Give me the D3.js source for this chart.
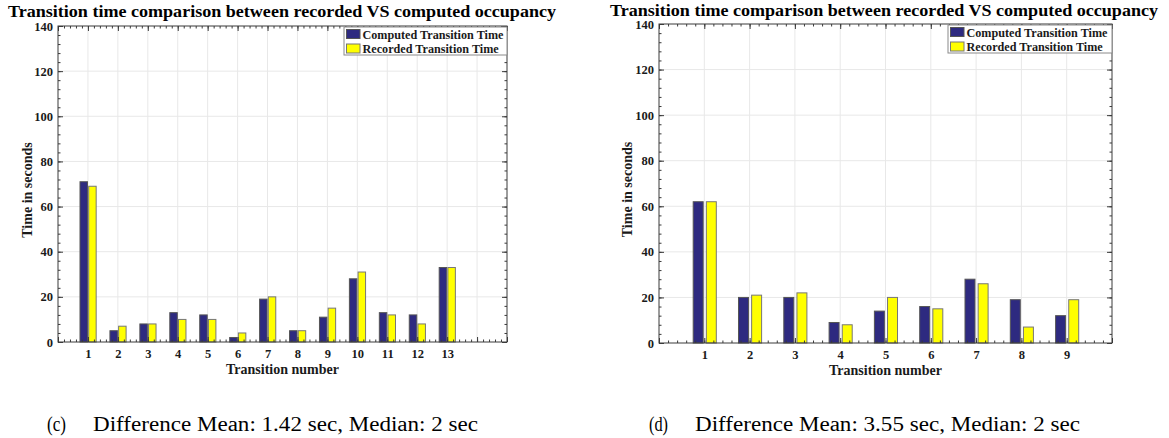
<!DOCTYPE html>
<html><head><meta charset="utf-8">
<script src="https://cdn.jsdelivr.net/npm/d3@7"></script>
<style>body{margin:0;background:#fff}svg{display:block}</style>
</head><body>
<svg id="c" width="1169" height="438"></svg>
<script>
// ---------- data ----------
const titleText = "Transition time comparison between recorded VS computed occupancy";
const seriesNames = ["Computed Transition Time", "Recorded Transition Time"];
const yTickValues = [0, 20, 40, 60, 80, 100, 120, 140];
const yLabel = "Time in seconds";
const xLabel = "Transition number";

const leftCategories = [1, 2, 3, 4, 5, 6, 7, 8, 9, 10, 11, 12, 13];
const leftComputed = [71, 5, 8, 13, 12, 2, 19, 5, 11, 28, 13, 12, 33];
const leftRecorded = [69, 7, 8, 10, 10, 4, 20, 5, 15, 31, 12, 8, 33];

const rightCategories = [1, 2, 3, 4, 5, 6, 7, 8, 9];
const rightComputed = [62, 20, 20, 9, 14, 16, 28, 19, 12];
const rightRecorded = [62, 21, 22, 8, 20, 15, 26, 7, 19];

const captionLetters = ["(c)", "(d)"];
const captionTexts = ["Difference Mean: 1.42 sec, Median: 2 sec", "Difference Mean: 3.55 sec, Median: 2 sec"];

// ---------- style ----------
const serif = "'Liberation Serif','Times New Roman',serif";
const colors = ["#2e2a80", "#ffff00"];
const edgeColors = ["#555", "#777"];
const axisColor = "#3a3a3a";
const textColor = "#1a1a1a";
const svg = d3.select("#c");

function fitText(sel, target) {
  const fs = parseFloat(sel.attr("font-size"));
  const len = sel.node().getComputedTextLength();
  sel.attr("font-size", fs * target / len);
}

function drawChart(cfg) {
  const g = svg.append("g");
  const x = d3.scaleLinear().domain([0, cfg.xMax]).range([cfg.left, cfg.right]);
  const y = d3.scaleLinear().domain([0, 140]).range([cfg.bottom, cfg.top]);

  // grid
  g.append("g").selectAll("line").data(yTickValues.slice(1, -1)).join("line")
    .attr("x1", cfg.left).attr("x2", cfg.right)
    .attr("y1", d => y(d)).attr("y2", d => y(d))
    .attr("stroke", "#e8e8e8").attr("stroke-width", 1);
  g.append("g").selectAll("line").data(d3.range(1, cfg.xMax)).join("line")
    .attr("x1", d => x(d)).attr("x2", d => x(d))
    .attr("y1", cfg.top).attr("y2", cfg.bottom)
    .attr("stroke", "#e8e8e8").attr("stroke-width", 1);

  // bars
  const series = [cfg.computed, cfg.recorded];
  series.forEach((vals, si) => {
    const off = cfg.offsets[si];
    g.append("g").selectAll("rect").data(cfg.categories).join("rect")
      .attr("x", (c) => x(c + off[0]))
      .attr("width", (c) => x(c + off[1]) - x(c + off[0]))
      .attr("y", (c, i) => y(vals[i]))
      .attr("height", (c, i) => y(0) - y(vals[i]))
      .attr("fill", colors[si])
      .attr("stroke", edgeColors[si]).attr("stroke-width", 1);
  });

  // axes
  const majorX = d3.range(0, cfg.xMax + 1);
  const minorX = d3.range(0, cfg.xMax * 5 + 1).map(d => d / 5);
  const minorY = d3.range(0, 36).map(d => d * 4);

  function styleAxis(a) {
    a.select(".domain").remove();
    a.selectAll("line").attr("stroke", axisColor);
    a.selectAll("text").attr("font-family", serif).attr("font-weight", "bold")
      .attr("font-size", 12.5).attr("fill", textColor);
  }
  const bottom = g.append("g").attr("transform", `translate(0,${cfg.bottom})`)
    .call(d3.axisBottom(x).tickValues(majorX)
      .tickFormat(d => cfg.categories.includes(d) ? d : "").tickSize(-5).tickPadding(7));
  styleAxis(bottom);
  const bottomMinor = g.append("g").attr("transform", `translate(0,${cfg.bottom})`)
    .call(d3.axisBottom(x).tickValues(minorX).tickFormat("").tickSize(-2.5));
  styleAxis(bottomMinor);
  const top = g.append("g").attr("transform", `translate(0,${cfg.top})`)
    .call(d3.axisTop(x).tickValues(majorX).tickFormat("").tickSize(-5));
  styleAxis(top);
  const topMinor = g.append("g").attr("transform", `translate(0,${cfg.top})`)
    .call(d3.axisTop(x).tickValues(minorX).tickFormat("").tickSize(-2.5));
  styleAxis(topMinor);

  const leftAx = g.append("g").attr("transform", `translate(${cfg.left},0)`)
    .call(d3.axisLeft(y).tickValues(yTickValues).tickSize(-5).tickPadding(5));
  styleAxis(leftAx);
  const leftMinor = g.append("g").attr("transform", `translate(${cfg.left},0)`)
    .call(d3.axisLeft(y).tickValues(minorY).tickFormat("").tickSize(-2.5));
  styleAxis(leftMinor);
  const rightAx = g.append("g").attr("transform", `translate(${cfg.right},0)`)
    .call(d3.axisRight(y).tickValues(yTickValues).tickFormat("").tickSize(-5));
  styleAxis(rightAx);
  const rightMinor = g.append("g").attr("transform", `translate(${cfg.right},0)`)
    .call(d3.axisRight(y).tickValues(minorY).tickFormat("").tickSize(-2.5));
  styleAxis(rightMinor);

  // box
  g.append("rect").attr("x", cfg.left).attr("y", cfg.top)
    .attr("width", cfg.right - cfg.left).attr("height", cfg.bottom - cfg.top)
    .attr("fill", "none").attr("stroke", axisColor).attr("stroke-width", 1);

  // labels
  g.append("text").attr("x", (cfg.left + cfg.right) / 2).attr("y", cfg.bottom + 32)
    .attr("text-anchor", "middle").attr("font-family", serif).attr("font-weight", "bold")
    .attr("font-size", 14).attr("fill", textColor).text(xLabel);
  g.append("text").attr("transform", `translate(${cfg.yLabelX},${(cfg.top + cfg.bottom) / 2 + 6}) rotate(-90)`)
    .attr("text-anchor", "middle").attr("font-family", serif).attr("font-weight", "bold")
    .attr("font-size", 14).attr("fill", textColor).text(yLabel);

  // title
  g.append("text").attr("x", cfg.titleX).attr("y", cfg.titleY)
    .attr("font-family", serif).attr("font-weight", "bold").attr("font-size", 17)
    .attr("textLength", 548).attr("lengthAdjust", "spacingAndGlyphs")
    .attr("fill", "#000").text(titleText);

  // legend
  const lg = g.append("g");
  lg.append("rect").attr("x", cfg.legendX).attr("y", cfg.legendY)
    .attr("width", cfg.right - cfg.legendX).attr("height", 28)
    .attr("fill", "#fff").attr("stroke", "#8a8a8a").attr("stroke-width", 1);
  seriesNames.forEach((name, i) => {
    const yy = cfg.legendY + 2.5 + i * 14.5;
    lg.append("rect").attr("x", cfg.legendX + 2.5).attr("y", yy)
      .attr("width", 13.5).attr("height", 9)
      .attr("fill", colors[i]).attr("stroke", edgeColors[i]).attr("stroke-width", 1);
    const tt = lg.append("text").attr("x", cfg.legendX + 18.5).attr("y", yy + 9)
      .attr("font-family", serif).attr("font-weight", "bold").attr("font-size", 12.5)
      .attr("fill", textColor).text(name);
    if (i === 0) fitText(tt, 141);
    else tt.attr("font-size", lg.select("text").attr("font-size"));
  });

  // caption
  svg.append("text").attr("x", cfg.capX).attr("y", 431)
    .attr("font-family", serif).attr("font-size", 20).attr("fill", "#000")
    .attr("textLength", 19).attr("lengthAdjust", "spacingAndGlyphs").text(cfg.capLetter);
  svg.append("text").attr("x", cfg.capX + 46).attr("y", 431)
    .attr("font-family", serif).attr("font-size", 20).attr("fill", "#000")
    .attr("textLength", 385).attr("lengthAdjust", "spacingAndGlyphs").text(cfg.capText);
}

drawChart({
  left: 58, right: 507, top: 26, bottom: 342, xMax: 15,
  categories: leftCategories, computed: leftComputed, recorded: leftRecorded,
  offsets: [[-0.265, -0.015], [0.025, 0.275]],
  yLabelX: 32, titleX: 8, titleY: 16.5,
  legendX: 344, legendY: 27,
  capX: 47, capLetter: captionLetters[0], capText: captionTexts[0]
});
drawChart({
  left: 659, right: 1112, top: 24, bottom: 343, xMax: 10,
  categories: rightCategories, computed: rightComputed, recorded: rightRecorded,
  offsets: [[-0.245, -0.025], [0.045, 0.265]],
  yLabelX: 632, titleX: 610, titleY: 15.5,
  legendX: 948, legendY: 25,
  capX: 649, capLetter: captionLetters[1], capText: captionTexts[1]
});
</script>
</body></html>
